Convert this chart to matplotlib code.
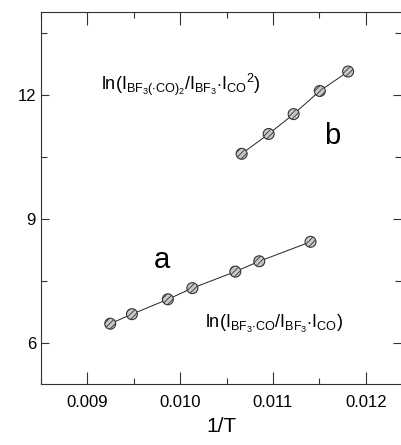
import matplotlib
matplotlib.use("Agg")
import matplotlib.pyplot as plt
from matplotlib.ticker import MultipleLocator

plt.rcParams['font.family'] = 'Liberation Sans'
plt.rcParams['mathtext.fontset'] = 'custom'
plt.rcParams['mathtext.rm'] = 'Liberation Sans'
plt.rcParams['mathtext.it'] = 'Liberation Sans'
plt.rcParams['hatch.linewidth'] = 0.6

# series a: ln(I_BF3.CO / I_BF3 . I_CO)
inv_t_a = [0.009247, 0.009481, 0.009868, 0.010132, 0.010595, 0.010853, 0.011405]
ln_a = [6.46, 6.69, 7.05, 7.32, 7.72, 7.97, 8.44]

# series b: ln(I_BF3(.CO)2 / I_BF3 . I_CO^2)
inv_t_b = [0.010663, 0.010954, 0.011223, 0.011505, 0.011810]
ln_b = [10.57, 11.05, 11.53, 12.09, 12.56]

fig = plt.figure(figsize=(4.01, 4.45), dpi=100)
ax = fig.add_axes([0.102, 0.137, 0.898, 0.836])

for x, y in [(inv_t_a, ln_a), (inv_t_b, ln_b)]:
    ax.plot(x, y, color='#222222', lw=0.7, zorder=2)
    ax.scatter(x, y, s=62, facecolor='#c8c8c8', edgecolor='#333333',
               hatch='//////', linewidth=0.8, zorder=3)

ax.set_xlim(0.0085, 0.01238)
ax.set_ylim(5, 14)
ax.xaxis.set_major_locator(MultipleLocator(0.001))
ax.xaxis.set_minor_locator(MultipleLocator(0.0005))
ax.yaxis.set_major_locator(MultipleLocator(3))
ax.yaxis.set_minor_locator(MultipleLocator(1.5))
ax.xaxis.set_major_formatter(plt.FuncFormatter(lambda v, p: '%.3f' % v))

ax.tick_params(which='both', direction='in', top=True, right=True,
               labelsize=12, width=0.8, color='#333333')
ax.tick_params(which='major', length=9)
ax.tick_params(which='minor', length=4.5)
ax.tick_params(axis='y', which='major', length=6)
ax.tick_params(axis='y', which='minor', length=4)
ax.tick_params(axis='x', pad=8)
ax.spines['right'].set_visible(False)
for s in ['left', 'bottom', 'top']:
    ax.spines[s].set_linewidth(0.8)
    ax.spines[s].set_color('#333333')

ax.set_xlabel('1/T', fontsize=15, labelpad=5)

ax.text(0.00972, 7.8, 'a', fontsize=21)
ax.text(0.01155, 10.8, 'b', fontsize=21)
ax.text(0.01027, 6.45, r'$\mathrm{ln(I_{BF_3{\cdot}CO}/I_{BF_3}{\cdot}I_{CO})}$',
        fontsize=13, va='center')
ax.text(0.00915, 12.25, r'$\mathrm{ln(I_{BF_3({\cdot}CO)_2}/I_{BF_3}{\cdot}I_{CO}{}^2)}$',
        fontsize=13, va='center')

fig.savefig('out.png', dpi=100)
